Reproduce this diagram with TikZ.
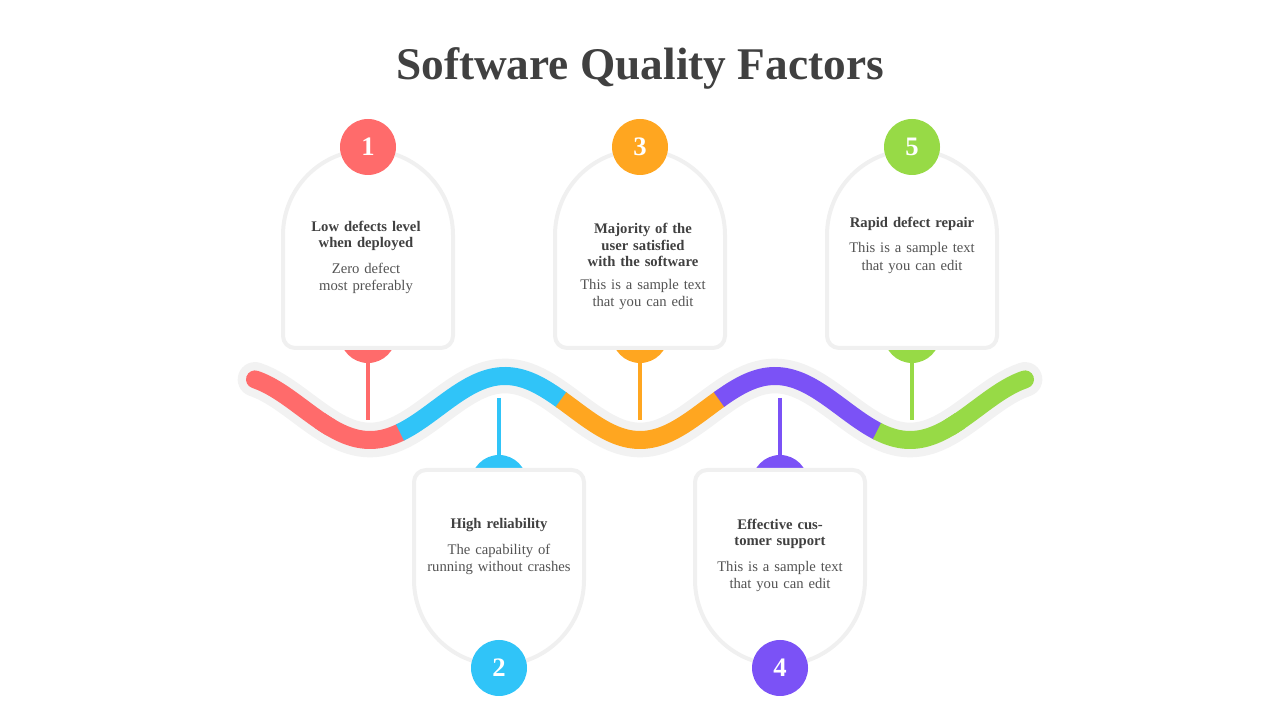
\documentclass[tikz,border=0pt]{standalone}
\usepackage{fontspec}
\setmainfont{Liberation Serif}
\usetikzlibrary{positioning}
\definecolor{qred}{HTML}{FF6B6B}
\definecolor{qblue}{HTML}{30C4F8}
\definecolor{qorange}{HTML}{FFA620}
\definecolor{qpurple}{HTML}{7B52F6}
\definecolor{qgreen}{HTML}{97DA46}
\definecolor{qtext}{HTML}{404040}
\tikzset{
  num/.style={circle,fill=#1,minimum size=42pt,inner sep=0pt,text=white,font=\fontsize{20}{20}\selectfont\bfseries},
  dot/.style={circle,fill=#1,minimum size=42pt,inner sep=0pt},
  card/.style={fill=white,draw=gray!12,line width=3pt},
  head/.style={text=qtext,font=\fontsize{11}{12.5}\selectfont\bfseries,align=center,text width=100pt},
  body/.style={text=qtext!90,font=\fontsize{11}{13}\selectfont,align=center,text width=110pt},
  wave/.style={line width=13.5pt,#1,line cap=butt},
  stem/.style={draw=#1,line width=2.4pt}
}
\newcommand{\wavey}{312+32*cos(4/3*(\x-235))}
\begin{document}
\begin{tikzpicture}[x=0.75pt,y=0.75pt]
\useasboundingbox (0,0) rectangle (1280,720);

\node[text=qtext,font=\fontsize{34}{34}\selectfont\bfseries] (title) at (640,652) {Software Quality Factors};

% the wave
\draw[line width=26pt,gray!10,line cap=round] plot[domain=255:1025,samples=120,smooth] ({\x},{\wavey});
\draw[wave=qred,line cap=round] plot[domain=255:330,samples=30,smooth] ({\x},{\wavey});
\draw[wave=qred] plot[domain=320:401,samples=30,smooth] ({\x},{\wavey});
\draw[wave=qblue] plot[domain=400:562,samples=50,smooth] ({\x},{\wavey});
\draw[wave=qorange] plot[domain=561:720,samples=50,smooth] ({\x},{\wavey});
\draw[wave=qpurple] plot[domain=719:878,samples=50,smooth] ({\x},{\wavey});
\draw[wave=qgreen] plot[domain=877:960,samples=30,smooth] ({\x},{\wavey});
\draw[wave=qgreen,line cap=round] plot[domain=950:1025,samples=30,smooth] ({\x},{\wavey});

% stems and hidden dots
\coordinate (w1) at (368,300);
\coordinate (w2) at (499,322);
\coordinate (w3) at (640,300);
\coordinate (w4) at (780,322);
\coordinate (w5) at (912,300);
\node[dot=qred] (d1) at (368,385) {};
\node[dot=qblue] (d2) at (499,237) {};
\node[dot=qorange] (d3) at (640,385) {};
\node[dot=qpurple] (d4) at (780,237) {};
\node[dot=qgreen] (d5) at (912,385) {};
\draw[stem=qred] (d1) -- (w1);
\draw[stem=qblue] (w2) -- (d2);
\draw[stem=qorange] (d3) -- (w3);
\draw[stem=qpurple] (w4) -- (d4);
\draw[stem=qgreen] (d5) -- (w5);

% cards
\foreach \cx in {368,640,912}
  \draw[card] (\cx-85,384) -- (\cx-85,485) arc(180:0:85) -- (\cx+85,384)
    arc(0:-90:12) -- (\cx-73,372) arc(-90:-180:12) -- cycle;
\foreach \cx in {499,780}
  \draw[card] (\cx-85,140) -- (\cx-85,238) arc(180:90:12) -- (\cx+73,250)
    arc(90:0:12) -- (\cx+85,140) arc(0:-180:85) -- cycle;

% numbers
\node[num=qred] (n1) at (368,573) {1};
\node[num=qblue] (n2) at (499,52) {2};
\node[num=qorange] (n3) at (640,573) {3};
\node[num=qpurple] (n4) at (780,52) {4};
\node[num=qgreen] (n5) at (912,573) {5};

% texts
\node[head] (h1) at (366,484) {Low defects level when deployed};
\node[body,below=2pt of h1] (b1) {Zero defect most preferably};
\node[head] (h2) at (499,195) {High reliability};
\node[body,below=2pt of h2] (b2) {The capability of running without crashes};
\node[head] (h3) at (643,475) {Majority of the user satisfied with the software};
\node[body,below=2pt of h3] (b3) {This is a sample text that you can edit};
\node[head] (h4) at (780,186) {Effective customer support};
\node[body,below=2pt of h4] (b4) {This is a sample text that you can edit};
\node[head] (h5) at (912,496) {Rapid defect repair};
\node[body,below=2pt of h5] (b5) {This is a sample text that you can edit};
\end{tikzpicture}
\end{document}
